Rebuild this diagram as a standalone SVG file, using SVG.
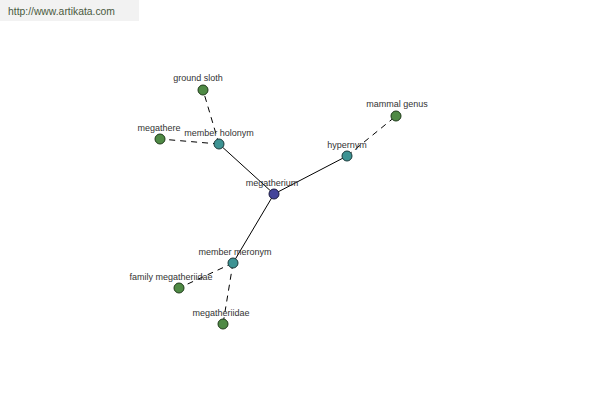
<svg xmlns="http://www.w3.org/2000/svg" width="600" height="400" viewBox="0 0 600 400">
<style>
.lbl{font-family:"Liberation Sans",Arial,sans-serif;font-size:9px;fill:#333;text-anchor:middle}
.e{stroke:#000;stroke-width:1;fill:none}
.d{stroke-dasharray:6,5}
.g{fill:#4f8a45;stroke:#1f3a1a;stroke-width:1}
.t{fill:#3d9393;stroke:#1a3a3a;stroke-width:1}
.b{fill:#44449a;stroke:#1a1a40;stroke-width:1}
</style>
<rect x="0" y="0" width="139" height="21" fill="#f2f2f2"/>
<text x="8" y="15" font-family="Liberation Sans,Arial,sans-serif" font-size="10.5" fill="#4a5a40" textLength="107" lengthAdjust="spacingAndGlyphs">http://www.artikata.com</text>
<g id="connectors">
<line class="e" x1="274" y1="194" x2="219" y2="144"/>
<line class="e" x1="274" y1="194" x2="347" y2="156"/>
<line class="e" x1="274" y1="194" x2="233" y2="263"/>
<line class="e d" x1="219" y1="144" x2="203" y2="90"/>
<line class="e d" x1="219" y1="144" x2="160" y2="139"/>
<line class="e d" x1="347" y1="156" x2="396" y2="116"/>
<line class="e d" x1="233" y1="263" x2="179" y2="288"/>
<line class="e d" x1="233" y1="263" x2="223" y2="324"/>
</g>
<g id="megatherium"><circle class="b" cx="274" cy="194" r="5"/><text class="lbl" x="272" y="186">megatherium</text></g>
<g id="member-holonym"><circle class="t" cx="219" cy="144" r="5"/><text class="lbl" x="219" y="136">member holonym</text></g>
<g id="ground-sloth"><circle class="g" cx="203" cy="90" r="5"/><text class="lbl" x="198" y="81">ground sloth</text></g>
<g id="megathere"><circle class="g" cx="160" cy="139" r="5"/><text class="lbl" x="159" y="131">megathere</text></g>
<g id="hypernym"><circle class="t" cx="347" cy="156" r="5"/><text class="lbl" x="347" y="148">hypernym</text></g>
<g id="mammal-genus"><circle class="g" cx="396" cy="116" r="5"/><text class="lbl" x="397" y="107">mammal genus</text></g>
<g id="member-meronym"><circle class="t" cx="233" cy="263" r="5"/><text class="lbl" x="235" y="255">member meronym</text></g>
<g id="family-megatheriidae"><circle class="g" cx="179" cy="288" r="5"/><text class="lbl" x="171" y="280">family megatheriidae</text></g>
<g id="megatheriidae"><circle class="g" cx="223" cy="324" r="5"/><text class="lbl" x="221" y="316">megatheriidae</text></g>
</svg>
